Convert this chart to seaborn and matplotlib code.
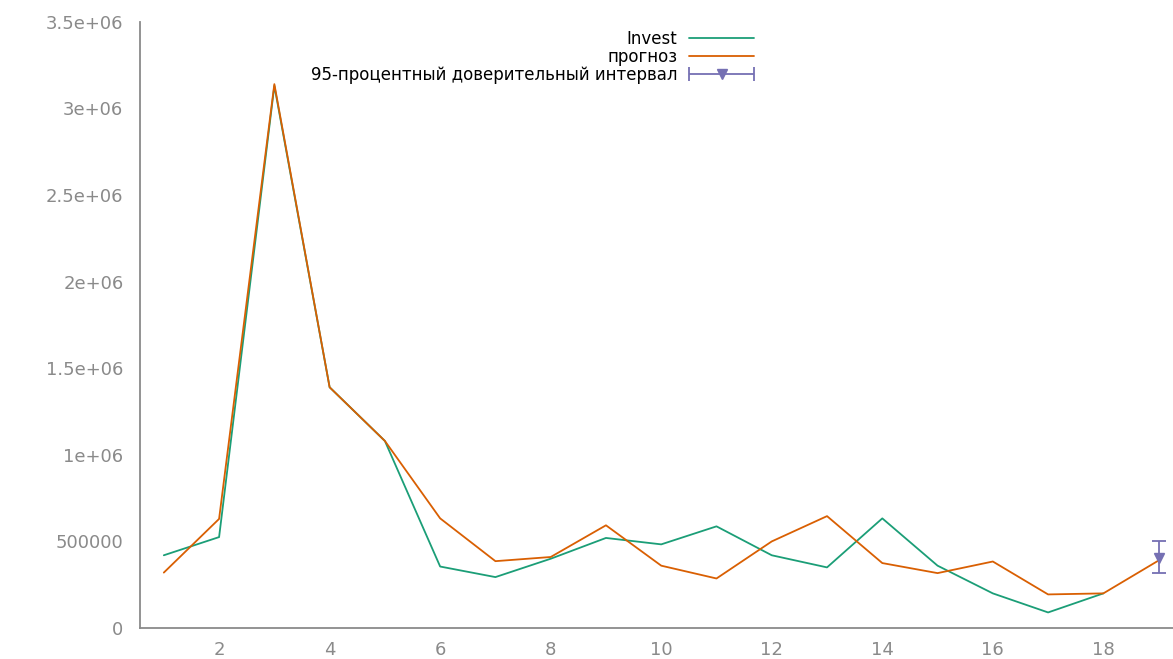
import numpy as np
import pandas as pd
import matplotlib
matplotlib.use("Agg")
import matplotlib.pyplot as plt
import seaborn as sns
from matplotlib.legend_handler import HandlerErrorbar

# ------------------------------------------------------------------
# DATA
# ------------------------------------------------------------------
period = list(range(1, 19))
invest = [0.42e6, 0.525e6, 3.13e6, 1.39e6, 1.08e6, 0.355e6, 0.294e6, 0.40e6,
          0.52e6, 0.483e6, 0.587e6, 0.42e6, 0.35e6, 0.633e6, 0.36e6, 0.20e6,
          0.09e6, 0.20e6]

period_fc = list(range(1, 20))
forecast = [0.32e6, 0.63e6, 3.14e6, 1.39e6, 1.08e6, 0.633e6, 0.386e6, 0.41e6,
            0.593e6, 0.36e6, 0.286e6, 0.50e6, 0.646e6, 0.375e6, 0.317e6,
            0.384e6, 0.194e6, 0.20e6, 0.39e6]

ci_x = [19]
ci_mid = [0.407e6]
ci_low = [0.32e6]
ci_high = [0.50e6]

labels = ["Invest", "прогноз", "95-процентный доверительный интервал"]

# ------------------------------------------------------------------
# SETTINGS
# ------------------------------------------------------------------
sns.set_theme(style="white")
plt.rcParams["font.family"] = ["DejaVu Sans"]
pal = sns.color_palette("Dark2", 3)
grey = "#8a8a8a"

fig = plt.figure(figsize=(11.73, 6.59), dpi=100)
ax = fig.add_axes([0.1194, 0.047, 0.8806, 0.92])

df_inv = pd.DataFrame({"x": period, "y": invest})
df_fc = pd.DataFrame({"x": period_fc, "y": forecast})
sns.lineplot(data=df_inv, x="x", y="y", color=pal[0], lw=1.3, ax=ax)
sns.lineplot(data=df_fc, x="x", y="y", color=pal[1], lw=1.3, ax=ax)

yerr = [[m - l for m, l in zip(ci_mid, ci_low)],
        [h - m for m, h in zip(ci_mid, ci_high)]]
ax.errorbar(ci_x, ci_mid, yerr=yerr, fmt="v", color=pal[2], ms=7,
            capsize=5, elinewidth=1.3, capthick=1.3)

# proxy for a horizontal, gnuplot-style legend key
proxy = ax.errorbar([np.nan], [np.nan], xerr=[0], fmt="v", color=pal[2],
                    ms=7, capsize=5, elinewidth=1.3, capthick=1.3)

ax.set_xlim(0.57, 19.26)
ax.set_ylim(0, 3.5e6)
ax.set_xticks(range(2, 19, 2))
ax.set_yticks(np.arange(0, 3.51e6, 0.5e6))
ax.set_yticklabels(["0", "500000", "1e+06", "1.5e+06", "2e+06",
                    "2.5e+06", "3e+06", "3.5e+06"])
ax.set_xlabel("")
ax.set_ylabel("")
for side in ["top", "right"]:
    ax.spines[side].set_visible(False)
for side in ["left", "bottom"]:
    ax.spines[side].set_color(grey)
    ax.spines[side].set_linewidth(1.3)
ax.tick_params(axis="both", direction="in", length=7, width=1.1,
               color=grey, labelcolor=grey, labelsize=13)
ax.tick_params(axis="y", pad=12)
ax.tick_params(axis="x", pad=9)

lines = ax.get_lines()
fig.legend([lines[0], lines[1], proxy], labels, loc="upper right",
           bbox_to_anchor=(0.643, 0.955), frameon=False, markerfirst=False,
           fontsize=12, handlelength=3.9, handletextpad=0.7,
           labelspacing=0.0, borderaxespad=0, borderpad=0, labelcolor="black",
           handler_map={proxy: HandlerErrorbar(xerr_size=1.95)})

plt.savefig("out.png", dpi=100)
plt.close()
